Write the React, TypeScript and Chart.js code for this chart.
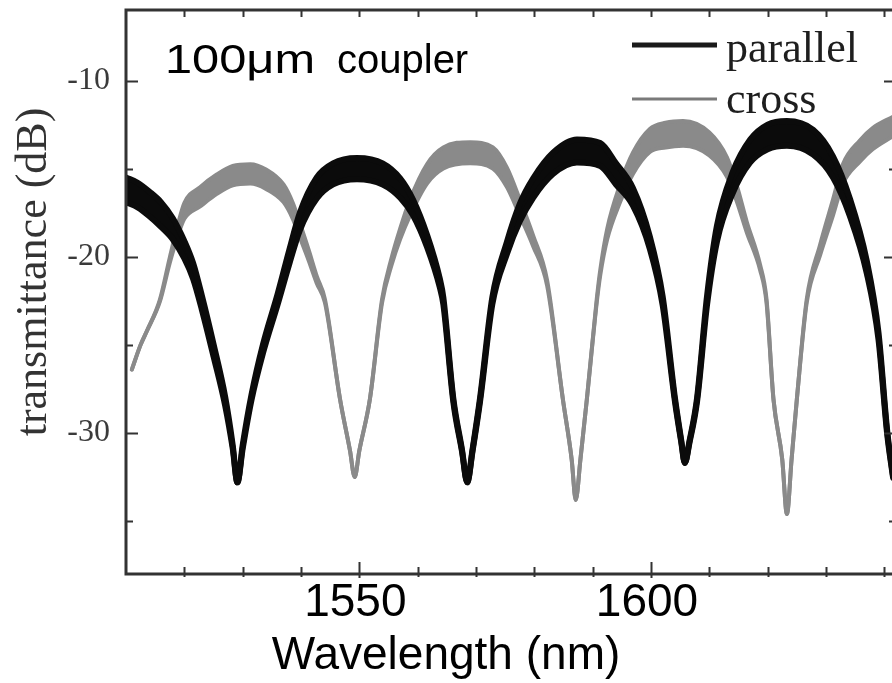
import { useEffect, useRef } from 'react';
import { Chart, registerables } from 'chart.js';

Chart.register(...registerables);

// ---- data ----
const parallelNm = [1510, 1512, 1514, 1516, 1518, 1520, 1521.5, 1523, 1525, 1527, 1528.3, 1529.1, 1530, 1531.5, 1533.5, 1536, 1538, 1539.8, 1542.7, 1545.5, 1549.6, 1554, 1557, 1559.2, 1561.6, 1563.8, 1564.4, 1566.1, 1567.6, 1568.5, 1569.4, 1570.7, 1572.8, 1575.3, 1577.5, 1579.8, 1583.2, 1587.3, 1591.3, 1594, 1596.9, 1599.8, 1602, 1604.1, 1605.2, 1605.8, 1606.6, 1607.9, 1609.6, 1611.3, 1614, 1617, 1620, 1623.3, 1627.8, 1631.2, 1634.1, 1637, 1639, 1640.5, 1641.5];
const parallelDb = [-16.2, -16.5, -17.0, -17.6, -18.4, -19.6, -20.8, -22.6, -25.3, -28.2, -30.8, -32.8, -30.8, -28.0, -25.2, -22.4, -20.0, -18.0, -16.1, -15.3, -15.0, -15.3, -16.1, -17.2, -19.1, -21.5, -22.5, -28.1, -31.0, -32.8, -31.0, -28.1, -22.5, -19.5, -17.5, -16.1, -14.7, -14.0, -14.2, -15.3, -16.6, -19.2, -22.5, -28.1, -30.5, -31.7, -30.5, -28.1, -22.5, -18.7, -15.8, -14.0, -13.2, -13.0, -13.5, -14.9, -17.2, -20.6, -24.5, -30.0, -32.5];
// half thickness of the noisy band (dB)
const parallelSpread = [0.7, 0.7, 0.7, 0.7, 0.6, 0.5, 0.45, 0.4, 0.35, 0.25, 0.1, 0, 0.1, 0.15, 0.25, 0.3, 0.4, 0.5, 0.6, 0.6, 0.6, 0.6, 0.55, 0.45, 0.35, 0.25, 0.2, 0.1, 0.05, 0, 0.05, 0.1, 0.2, 0.35, 0.5, 0.55, 0.6, 0.65, 0.65, 0.6, 0.5, 0.35, 0.25, 0.1, 0.05, 0, 0.05, 0.1, 0.25, 0.45, 0.6, 0.65, 0.7, 0.7, 0.7, 0.6, 0.5, 0.35, 0.2, 0.1, 0.05];

const crossNm = [1511, 1512.5, 1513.6, 1515.8, 1517.5, 1518.8, 1520, 1522.7, 1525.5, 1528.3, 1531.3, 1534, 1537, 1538.6, 1539.8, 1541.3, 1542.7, 1544.1, 1546.7, 1548.4, 1549.2, 1550, 1551.8, 1553.9, 1555.5, 1557, 1558.7, 1561.6, 1564.4, 1569, 1572.9, 1575.3, 1577.5, 1579.8, 1582.2, 1584.9, 1586.4, 1587.1, 1587.9, 1589, 1590.7, 1591.3, 1592.5, 1594.7, 1596.9, 1599.8, 1602.5, 1605.5, 1610, 1613, 1614.7, 1616.4, 1618.7, 1619.8, 1621, 1622.5, 1623.3, 1624.1, 1625, 1626.7, 1629, 1631.2, 1632.9, 1635.8, 1638, 1641.5];
const crossDb = [-26.4, -25.0, -24.2, -22.5, -20.2, -18.6, -17.4, -16.6, -15.9, -15.4, -15.3, -15.6, -16.4, -17.4, -18.5, -19.9, -21.3, -22.5, -28.1, -31.0, -32.5, -31.0, -28.1, -22.5, -20.3, -18.7, -17.2, -15.3, -14.4, -14.1, -14.4, -15.5, -17.2, -19.1, -21.5, -28.1, -31.5, -33.8, -31.5, -28.1, -22.5, -20.9, -18.7, -16.4, -14.7, -13.4, -13.1, -13.0, -13.6, -14.9, -16.4, -18.3, -20.6, -22.5, -28.1, -31.5, -34.6, -31.5, -28.1, -22.5, -19.6, -17.2, -15.3, -14.0, -13.3, -12.6];
const crossSpread = [0, 0, 0, 0.05, 0.15, 0.3, 0.45, 0.55, 0.55, 0.55, 0.55, 0.55, 0.5, 0.45, 0.4, 0.3, 0.2, 0.1, 0, 0, 0, 0, 0, 0.1, 0.2, 0.3, 0.45, 0.55, 0.6, 0.6, 0.6, 0.55, 0.45, 0.3, 0.15, 0, 0, 0, 0, 0, 0.1, 0.15, 0.3, 0.5, 0.6, 0.65, 0.7, 0.7, 0.65, 0.55, 0.45, 0.3, 0.15, 0.1, 0, 0, 0, 0, 0, 0.1, 0.3, 0.45, 0.55, 0.6, 0.6, 0.55];

const xTickValues = [1550, 1600];
const xMinorTickValues = [1520, 1530, 1540, 1560, 1570, 1580, 1590, 1610, 1620, 1630, 1640];
const yTickValues = [-30, -20, -10];
const yMinorTickValues = [-35, -25, -15];
const seriesLabels = ['parallel', 'cross'];
const noteParts = ['100μm', 'coupler'];
const xTitle = 'Wavelength (nm)';
const yTitle = 'transmittance (dB)';

const X_MIN = 1510;
const X_MAX = 1642;
const Y_MIN = -38;
const Y_MAX = -6;

const BLACK = '#0b0b0b';
const GRAY = '#8a8a8a';
const FRAME = '#333333';
const SERIF = '"Liberation Serif", "Times New Roman", serif';
const SANS = '"Liberation Sans", Arial, sans-serif';

const band = (nm: number[], db: number[], spread: number[], sign: number) =>
  nm.map((v, i) => ({ x: v, y: db[i] + sign * spread[i] }));

const decorPlugin = {
  id: 'decor',
  afterDraw(chart: any) {
    const { ctx, chartArea: a } = chart;
    const x = chart.scales.x;
    const y = chart.scales.y;
    ctx.save();
    // frame
    ctx.strokeStyle = FRAME;
    ctx.lineWidth = 3;
    ctx.strokeRect(a.left, a.top, a.right - a.left, a.bottom - a.top);
    // ticks
    ctx.lineWidth = 2;
    ctx.beginPath();
    const allX = [...xTickValues, ...xMinorTickValues];
    allX.forEach((v) => {
      const major = xTickValues.includes(v);
      const px = Math.round(x.getPixelForValue(v)) + 0.5;
      ctx.moveTo(px, a.top);
      ctx.lineTo(px, a.top + 7);
      ctx.moveTo(px, a.bottom + (major ? 4 : 3));
      ctx.lineTo(px, a.bottom - (major ? 12 : 7));
    });
    const allY = [...yTickValues, ...yMinorTickValues];
    allY.forEach((v) => {
      const major = yTickValues.includes(v);
      const py = Math.round(y.getPixelForValue(v)) + 0.5;
      ctx.moveTo(a.left, py);
      ctx.lineTo(a.left + (major ? 12 : 7), py);
      ctx.moveTo(a.right, py);
      ctx.lineTo(a.right - (major ? 12 : 7), py);
    });
    ctx.stroke();

    // annotation "100μm coupler"
    ctx.fillStyle = '#000';
    ctx.textBaseline = 'alphabetic';
    ctx.textAlign = 'left';
    ctx.font = `40px ${SANS}`;
    const w0 = ctx.measureText(noteParts[0]).width;
    ctx.save();
    ctx.translate(a.left + 39, a.top + 63);
    ctx.scale(150 / w0, 1);
    ctx.fillText(noteParts[0], 0, 0);
    ctx.restore();
    ctx.fillText(noteParts[1], a.left + 211, a.top + 63);

    // legend
    const legX0 = 632;
    const legX1 = 717;
    ctx.lineCap = 'butt';
    ctx.strokeStyle = '#1a1a1a';
    ctx.lineWidth = 5;
    ctx.beginPath();
    ctx.moveTo(legX0, 45);
    ctx.lineTo(legX1, 45);
    ctx.stroke();
    ctx.strokeStyle = '#7a7a7a';
    ctx.lineWidth = 3;
    ctx.beginPath();
    ctx.moveTo(legX0, 99);
    ctx.lineTo(legX1, 99);
    ctx.stroke();
    ctx.fillStyle = '#1e1e1e';
    ctx.font = `44px ${SERIF}`;
    ctx.fillText(seriesLabels[0], 726, 62);
    ctx.fillText(seriesLabels[1], 726, 113);

    // y title
    ctx.save();
    ctx.fillStyle = '#333';
    ctx.font = `44px ${SERIF}`;
    ctx.translate(46, (a.top + a.bottom) / 2 - 20);
    ctx.rotate(-Math.PI / 2);
    ctx.textAlign = 'center';
    ctx.fillText(yTitle, 0, 0);
    ctx.restore();

    // x title
    ctx.fillStyle = '#000';
    ctx.font = `46px ${SANS}`;
    ctx.textAlign = 'center';
    ctx.fillText(xTitle, 446, 669);
    ctx.restore();
  },
};

export default function App() {
  const ref = useRef<HTMLCanvasElement | null>(null);

  useEffect(() => {
    if (!ref.current) return;
    const chart = new Chart(ref.current, {
      type: 'line',
      data: {
        datasets: [
          {
            label: seriesLabels[0],
            data: band(parallelNm, parallelDb, parallelSpread, 1),
            borderColor: BLACK,
            backgroundColor: BLACK,
            borderWidth: 6,
            fill: false,
          },
          {
            label: seriesLabels[0] + ' low',
            data: band(parallelNm, parallelDb, parallelSpread, -1),
            borderColor: BLACK,
            backgroundColor: BLACK,
            borderWidth: 6,
            fill: '-1',
          },
          {
            label: seriesLabels[1],
            data: band(crossNm, crossDb, crossSpread, 1),
            borderColor: GRAY,
            backgroundColor: GRAY,
            borderWidth: 4,
            fill: false,
          },
          {
            label: seriesLabels[1] + ' low',
            data: band(crossNm, crossDb, crossSpread, -1),
            borderColor: GRAY,
            backgroundColor: GRAY,
            borderWidth: 4,
            fill: '-1',
          },
        ],
      },
      options: {
        responsive: false,
        animation: false,
        events: [],
        layout: { padding: { top: 10, right: 4, left: 0, bottom: 0 } },
        elements: {
          point: { radius: 0 },
          line: { cubicInterpolationMode: 'monotone', borderJoinStyle: 'round', borderCapStyle: 'round' },
        },
        plugins: {
          legend: { display: false },
          tooltip: { enabled: false },
          title: { display: false },
        },
        scales: {
          x: {
            type: 'linear',
            min: X_MIN,
            max: X_MAX,
            grid: { display: false, drawTicks: false },
            border: { display: false },
            afterBuildTicks: (s: any) => {
              s.ticks = xTickValues.map((v) => ({ value: v }));
            },
            afterFit: (s: any) => {
              s.height = 109;
              s.paddingLeft = 0;
              s.paddingRight = 0;
            },
            ticks: {
              autoSkip: false,
              maxRotation: 0,
              padding: 2,
              labelOffset: -4,
              color: '#000',
              font: { family: SANS, size: 46 },
              callback: (v: any) => String(v),
            },
          },
          y: {
            type: 'linear',
            min: Y_MIN,
            max: Y_MAX,
            grid: { display: false, drawTicks: false },
            border: { display: false },
            afterBuildTicks: (s: any) => {
              s.ticks = yTickValues.map((v) => ({ value: v }));
            },
            afterFit: (s: any) => {
              s.width = 126;
              s.paddingTop = 0;
              s.paddingBottom = 0;
            },
            ticks: {
              padding: 16,
              color: '#3a3a3a',
              font: { family: SERIF, size: 32 },
              callback: (v: any) => String(v),
            },
          },
        },
      },
      plugins: [decorPlugin],
    });
    return () => chart.destroy();
  }, []);

  return (
    <div
      style={{
        position: 'fixed',
        left: 0,
        top: 0,
        width: 892,
        height: 683,
        overflow: 'hidden',
        background: '#fff',
      }}
    >
      <canvas ref={ref} width={900} height={683} style={{ display: 'block' }} />
    </div>
  );
}
